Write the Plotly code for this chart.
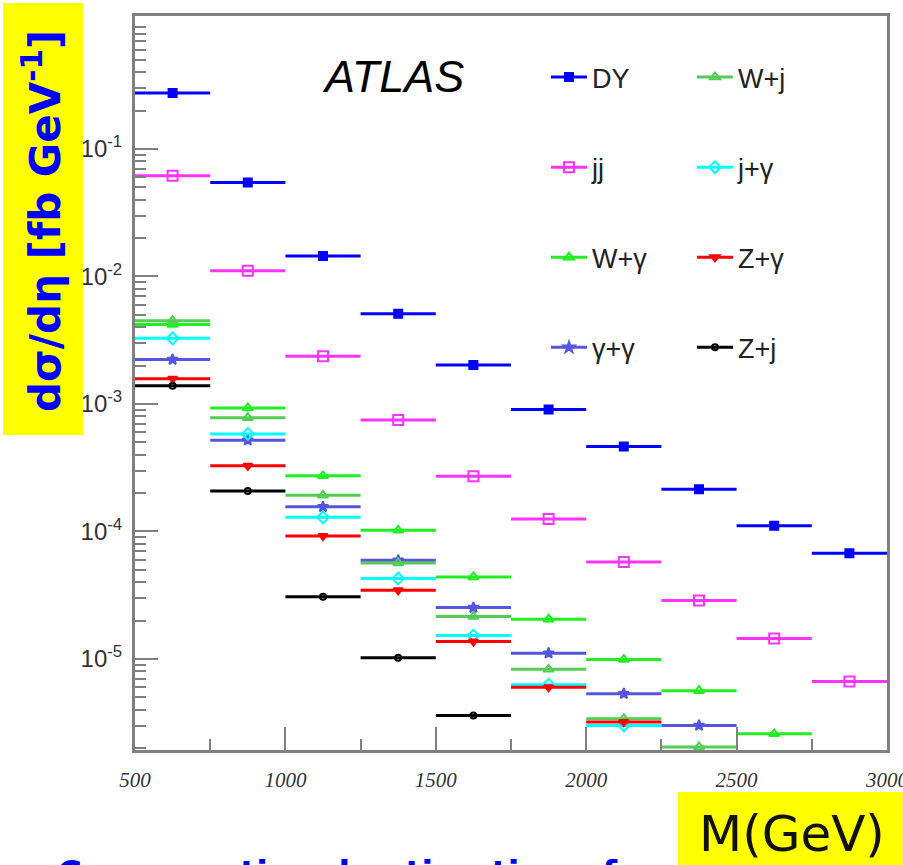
import plotly.graph_objects as go

# ---------------- data ----------------
bin_lo = [500, 750, 1000, 1250, 1500, 1750, 2000, 2250, 2500, 2750]
bin_hi = [750, 1000, 1250, 1500, 1750, 2000, 2250, 2500, 2750, 3000]

dy     = [0.275, 0.0545, 0.0145, 5.1e-3, 2.02e-3, 9.05e-4, 4.63e-4, 2.14e-4, 1.11e-4, 6.74e-5]
jj     = [0.0616, 0.0111, 2.37e-3, 7.5e-4, 2.71e-4, 1.25e-4, 5.77e-5, 2.88e-5, 1.45e-5, 6.67e-6]
w_j    = [4.5e-3, 7.8e-4, 1.92e-4, 5.66e-5, 2.15e-5, 8.3e-6, 3.4e-6, 2.04e-6, None, None]
j_gam  = [3.27e-3, 5.82e-4, 1.29e-4, 4.27e-5, 1.53e-5, 6.28e-6, 3.01e-6, None, None, None]
w_gam  = [4.2e-3, 9.3e-4, 2.73e-4, 1.02e-4, 4.4e-5, 2.05e-5, 9.9e-6, 5.64e-6, 2.59e-6, None]
z_gam  = [1.58e-3, 3.27e-4, 9.2e-5, 3.46e-5, 1.37e-5, 6.0e-6, 3.2e-6, None, None, None]
gamgam = [2.23e-3, 5.2e-4, 1.56e-4, 5.94e-5, 2.53e-5, 1.11e-5, 5.34e-6, 3.01e-6, None, None]
z_j    = [1.39e-3, 2.08e-4, 3.08e-5, 1.02e-5, 3.6e-6, None, None, None, None, None]

x_tick_vals = [500, 1000, 1500, 2000, 2500, 3000]
x_tick_text = ["500", "1000", "1500", "2000", "2500", "3000"]
y_tick_vals = [1e-5, 1e-4, 1e-3, 1e-2, 1e-1]
y_tick_text = ["10<sup>-5</sup>", "10<sup>-4</sup>", "10<sup>-3</sup>", "10<sup>-2</sup>", "10<sup>-1</sup>"]

series = [
    # name, values, color, symbol, size, legend
    ("DY",  dy,     "#0000ff", "square",             8, "legend"),
    ("jj",  jj,     "#ff33ff", "square-open",       10, "legend"),
    ("W+γ", w_gam,  "#22ee22", "triangle-up-open",   9, "legend"),
    ("γ+γ", gamgam, "#5555dd", "star",               8, "legend"),
    ("W+j", w_j,    "#55cc55", "triangle-up-open",   9, "legend2"),
    ("j+γ", j_gam,  "#00ffff", "diamond-open",       9, "legend2"),
    ("Z+γ", z_gam,  "#ff0000", "triangle-down",      8, "legend2"),
    ("Z+j", z_j,    "#000000", "circle-open",        6, "legend2"),
]

fig = go.Figure()
for i, (name, vals, col, sym, sz, leg) in enumerate(series):
    xs, ys, ex = [], [], []
    for lo, hi, v in zip(bin_lo, bin_hi, vals):
        if v is None:
            continue
        xs += [(lo + hi) / 2, None]
        ys += [v, None]
        ex += [(hi - lo) / 2, 0]
    fig.add_trace(go.Scatter(
        x=xs, y=ys, name=name, mode="lines+markers", connectgaps=False,
        line=dict(color=col, width=3),
        marker=dict(symbol=sym, size=sz, color=col, line=dict(color=col, width=2)),
        error_x=dict(type="data", array=ex, symmetric=True, color=col, thickness=3, width=0),
        legend=leg, legendgroup=name,
    ))

W, H = 903, 865
L, R, T, B = 135, 16, 16, 115
PW, PH = W - L - R, H - T - B

def px(x):
    return (x - L) / PW

def py(y):
    return (H - B - y) / PH

y_minor = [k * 10 ** n for n in range(-6, 1) for k in range(2, 10)]

legend_font = dict(family="Liberation Sans", size=27, color="#222222")

fig.update_layout(
    width=W, height=H,
    margin=dict(l=L, r=R, t=T, b=B, autoexpand=False),
    paper_bgcolor="white", plot_bgcolor="white",
    showlegend=True,
    legend=dict(x=px(546), y=py(53), xanchor="left", yanchor="top", bgcolor="rgba(0,0,0,0)",
                font=legend_font, tracegroupgap=52, traceorder="grouped", itemwidth=36),
    legend2=dict(x=px(692), y=py(53), xanchor="left", yanchor="top", bgcolor="rgba(0,0,0,0)",
                 font=legend_font, tracegroupgap=52, traceorder="grouped", itemwidth=36),
    xaxis=dict(
        range=[500, 3000], showgrid=False, zeroline=False, automargin=False,
        showline=True, linecolor="#808080", linewidth=3, mirror=True,
        ticks="inside", ticklen=23, tickwidth=2, tickcolor="#808080",
        tickvals=x_tick_vals, ticktext=x_tick_text,
        minor=dict(ticks="inside", ticklen=11, tickwidth=2, tickcolor="#808080", dtick=250),
        tickfont=dict(family="Liberation Serif", size=21, color="#333333", style="italic"),
        ticklabelstandoff=9, ticklabeloverflow="allow",
    ),
    yaxis=dict(
        type="log", range=[-5.714, 0.043], showgrid=False, zeroline=False, automargin=False,
        showline=True, linecolor="#808080", linewidth=3, mirror=True,
        ticks="inside", ticklen=23, tickwidth=2, tickcolor="#808080",
        tickvals=y_tick_vals, ticktext=y_tick_text,
        minor=dict(ticks="inside", ticklen=11, tickwidth=2, tickcolor="#808080", tickvals=y_minor),
        tickfont=dict(family="Liberation Sans", size=24, color="#333333"),
        ticklabelstandoff=5,
    ),
    shapes=[
        dict(type="rect", xref="paper", yref="paper", x0=px(3), x1=px(83), y0=py(435), y1=py(3),
             fillcolor="#ffff00", line=dict(width=0), layer="above"),
        dict(type="rect", xref="paper", yref="paper", x0=px(678), x1=px(905), y0=py(792), y1=py(870),
             fillcolor="#ffff00", line=dict(width=0), layer="above"),
    ],
    annotations=[
        dict(text="ATLAS", xref="paper", yref="paper", x=px(393), y=py(76), xanchor="center", yanchor="middle",
             showarrow=False,
             font=dict(family="Liberation Sans", size=45, color="#000000", style="italic")),
        dict(text="dσ/dη [fb GeV<sup>-1</sup>]", xref="paper", yref="paper", x=px(43), y=py(221),
             xanchor="center", yanchor="middle", textangle=-90, showarrow=False,
             font=dict(family="DejaVu Sans", size=42, color="#0000ff", weight="bold")),
        dict(text="M(GeV)", xref="paper", yref="paper", x=px(792), y=py(834),
             xanchor="center", yanchor="middle", showarrow=False,
             font=dict(family="DejaVu Sans", size=50, color="#111111")),
        dict(text="Cross-sectional estimation of", xref="paper", yref="paper", x=px(55), y=py(851),
             xanchor="left", yanchor="top", showarrow=False,
             font=dict(family="DejaVu Sans", size=34, color="#0000ff", weight="bold")),
    ],
)

fig.write_html("out.html")
